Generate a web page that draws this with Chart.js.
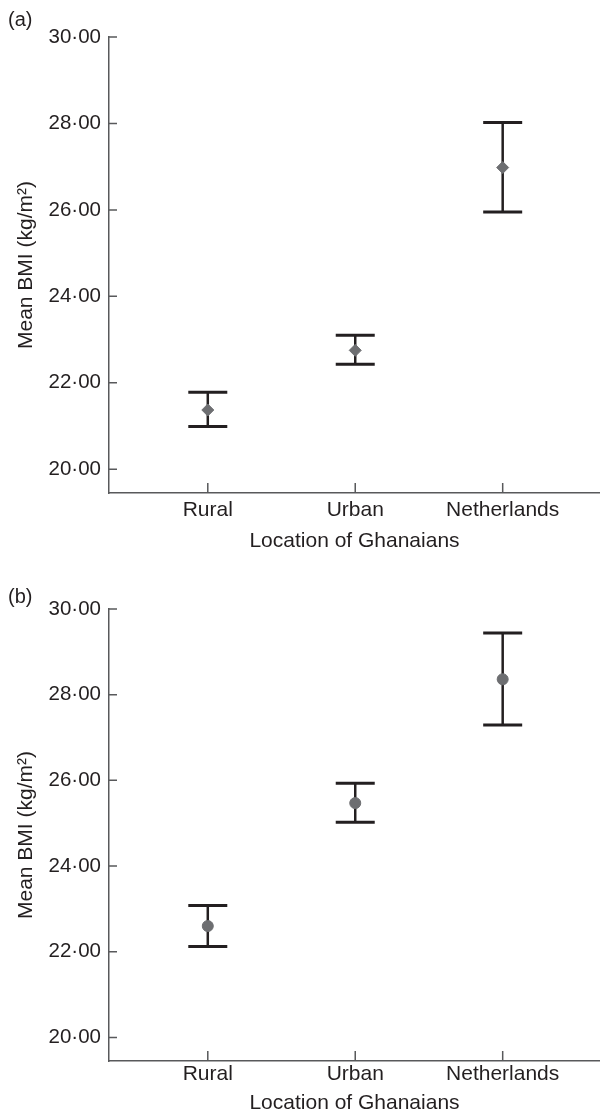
<!DOCTYPE html>
<html>
<head>
<meta charset="utf-8">
<script src="https://cdn.jsdelivr.net/npm/chart.js@4.4.1/dist/chart.umd.min.js"></script>
<style>
body{margin:0;background:#fff;font-family:"Liberation Sans",Arial,sans-serif;}
.panel{position:relative;width:600px;height:558px;}
.panel canvas{display:block;}
.tag{position:absolute;left:8px;font-size:20px;line-height:24px;color:#231f20;}
</style>
</head>
<body>
<div class="panel"><span class="tag" style="top:7px">(a)</span><canvas id="chartA" width="600" height="558"></canvas></div>
<div class="panel"><span class="tag" style="top:26px">(b)</span><canvas id="chartB" width="600" height="558"></canvas></div>
<script>
// categories and tick values
var categories = ['Rural', 'Urban', 'Netherlands'];
var yTicks = [20, 22, 24, 26, 28, 30];

// panel (a): mean BMI and 95% CI
var meanA = [21.37, 22.75, 26.98];
var lowA = [20.99, 22.43, 25.95];
var highA = [21.78, 23.10, 28.02];

// panel (b)
var meanB = [22.60, 25.47, 28.36];
var lowB = [22.12, 25.02, 27.29];
var highB = [23.08, 25.93, 29.44];

var textColor = '#231f20';
var axisColor = '#58595b';
var markColor = '#6d6e71';

Chart.defaults.font.family = '"Liberation Sans", Arial, sans-serif';
Chart.defaults.font.size = 21;
Chart.defaults.color = textColor;

function errorBars(low, high) {
  return {
    id: 'errorBars',
    beforeDatasetsDraw: function(chart) {
      var ctx = chart.ctx, xs = chart.scales.x, ys = chart.scales.y;
      ctx.save();
      ctx.strokeStyle = textColor;
      for (var i = 0; i < low.length; i++) {
        var x = xs.getPixelForValue(i);
        var yl = ys.getPixelForValue(low[i]);
        var yh = ys.getPixelForValue(high[i]);
        ctx.lineWidth = 2.5;
        ctx.beginPath();
        ctx.moveTo(x, yl); ctx.lineTo(x, yh);
        ctx.stroke();
        ctx.lineWidth = 3;
        ctx.beginPath();
        ctx.moveTo(x - 19.5, yl); ctx.lineTo(x + 19.5, yl);
        ctx.moveTo(x - 19.5, yh); ctx.lineTo(x + 19.5, yh);
        ctx.stroke();
      }
      ctx.restore();
    }
  };
}

// ticks point into the plot
var inwardTicks = {
  id: 'inwardTicks',
  afterDraw: function(chart) {
    var ctx = chart.ctx, a = chart.chartArea;
    var xs = chart.scales.x, ys = chart.scales.y;
    ctx.save();
    ctx.strokeStyle = axisColor;
    ctx.lineWidth = 1.5;
    ctx.beginPath();
    ys.ticks.forEach(function(t) {
      var y = ys.getPixelForValue(t.value);
      ctx.moveTo(a.left, y); ctx.lineTo(a.left + 8, y);
    });
    xs.ticks.forEach(function(t) {
      var x = xs.getPixelForValue(t.value);
      ctx.moveTo(x, a.bottom); ctx.lineTo(x, a.bottom - 10);
    });
    ctx.stroke();
    ctx.restore();
  }
};

function makeChart(id, mean, low, high, p) {
  var pts = mean.map(function(v, i) { return {x: i, y: v}; });
  return new Chart(document.getElementById(id), {
    type: 'scatter',
    data: {
      datasets: [{
        data: pts,
        pointStyle: p.style,
        pointRadius: p.radius,
        pointBackgroundColor: markColor,
        pointBorderColor: markColor,
        pointBorderWidth: 1
      }]
    },
    plugins: [errorBars(low, high), inwardTicks],
    options: {
      responsive: false,
      animation: false,
      devicePixelRatio: 1,
      layout: {autoPadding: false, padding: {top: p.top, right: 0, bottom: 0, left: 0}},
      plugins: {legend: {display: false}, tooltip: {enabled: false}},
      scales: {
        x: {
          type: 'linear',
          min: -0.67,
          max: 2.66,
          afterBuildTicks: function(s) { s.ticks = categories.map(function(c, i) { return {value: i}; }); },
          afterFit: function(s) { s.height = p.xHeight; s.paddingLeft = 0; s.paddingRight = 0; },
          grid: {drawOnChartArea: false, drawTicks: false},
          border: {display: true, color: axisColor, width: 1.5},
          ticks: {padding: p.xPad, color: textColor, callback: function(v) { return categories[v]; }},
          title: {display: true, text: 'Location of Ghanaians', color: textColor, padding: {top: 0, bottom: p.titlePad}}
        },
        y: {
          min: 19.45,
          max: 30,
          afterBuildTicks: function(s) { s.ticks = yTicks.map(function(v) { return {value: v}; }); },
          afterFit: function(s) { s.width = 109; },
          grid: {drawOnChartArea: false, drawTicks: false},
          border: {display: true, color: axisColor, width: 1.5},
          ticks: {padding: 8, color: textColor, font: {size: 20.5}, callback: function(v) { return v.toFixed(2).replace('.', '\u00b7'); }},
          title: {display: true, text: 'Mean BMI (kg/m\u00b2)', color: textColor, padding: {top: 14, bottom: 0}}
        }
      }
    }
  });
}

makeChart('chartA', meanA, lowA, highA, {style: 'rectRot', radius: 6, top: 37, xHeight: 65, xPad: 4.5, titlePad: 4.5});
makeChart('chartB', meanB, lowB, highB, {style: 'circle', radius: 5.5, top: 51, xHeight: 55, xPad: 0.5, titlePad: 0});
</script>
</body>
</html>
